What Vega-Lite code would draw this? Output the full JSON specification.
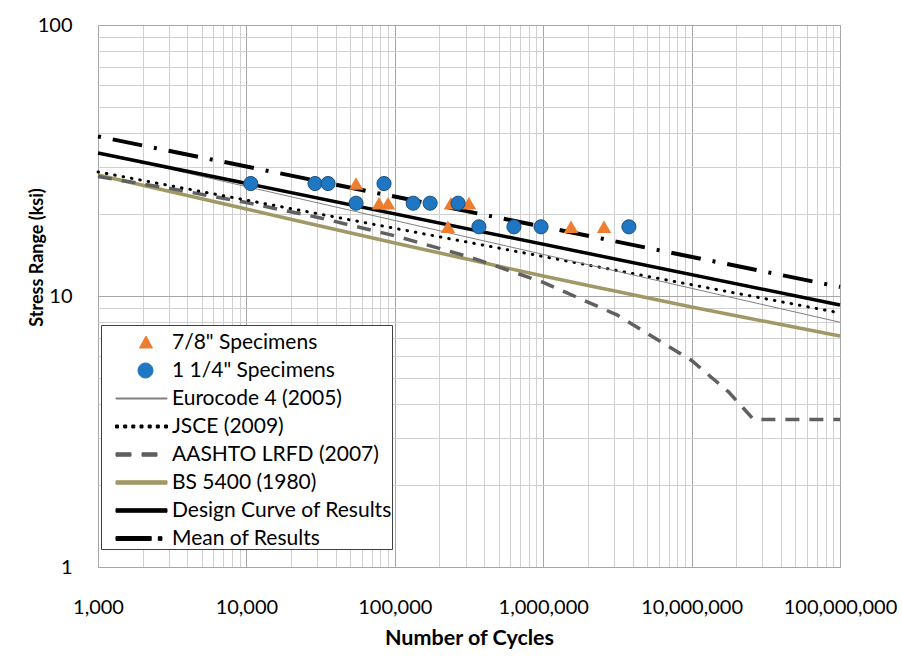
{
  "$schema": "https://vega.github.io/schema/vega-lite/v6.json",
  "autosize": {"type": "none"},
  "width": 742,
  "height": 542,
  "padding": {"left": 98, "top": 25, "right": 62, "bottom": 91},
  "background": "white",
  "config": {
    "font": "Lato",
    "view": {"stroke": "#a6a6a6", "strokeWidth": 1},
    "axis": {"labelColor": "#000000", "titleColor": "#000000", "labelFont": "Lato", "titleFont": "Lato"}
  },
  "datasets": {
    "curves": [
      {"series": "Eurocode 4 (2005)", "N": 1000, "S": 33.8},
      {"series": "Eurocode 4 (2005)", "N": 100000000, "S": 8.0},
      {"series": "JSCE (2009)", "N": 1000, "S": 28.7},
      {"series": "JSCE (2009)", "N": 100000000, "S": 8.66},
      {"series": "AASHTO LRFD (2007)", "N": 1000, "S": 27.58},
      {"series": "AASHTO LRFD (2007)", "N": 3162, "S": 24.85},
      {"series": "AASHTO LRFD (2007)", "N": 10000, "S": 22.13},
      {"series": "AASHTO LRFD (2007)", "N": 31623, "S": 19.40},
      {"series": "AASHTO LRFD (2007)", "N": 100000, "S": 16.68},
      {"series": "AASHTO LRFD (2007)", "N": 316228, "S": 13.95},
      {"series": "AASHTO LRFD (2007)", "N": 1000000, "S": 11.23},
      {"series": "AASHTO LRFD (2007)", "N": 3162278, "S": 8.50},
      {"series": "AASHTO LRFD (2007)", "N": 10000000, "S": 5.78},
      {"series": "AASHTO LRFD (2007)", "N": 17800000, "S": 4.42},
      {"series": "AASHTO LRFD (2007)", "N": 26200000, "S": 3.5},
      {"series": "AASHTO LRFD (2007)", "N": 100000000, "S": 3.5},
      {"series": "BS 5400 (1980)", "N": 1000, "S": 27.96},
      {"series": "BS 5400 (1980)", "N": 10000, "S": 20.94},
      {"series": "BS 5400 (1980)", "N": 100000, "S": 15.69},
      {"series": "BS 5400 (1980)", "N": 316228, "S": 13.63},
      {"series": "BS 5400 (1980)", "N": 1000000, "S": 11.85},
      {"series": "BS 5400 (1980)", "N": 3162278, "S": 10.39},
      {"series": "BS 5400 (1980)", "N": 10000000, "S": 9.11},
      {"series": "BS 5400 (1980)", "N": 31622777, "S": 8.05},
      {"series": "BS 5400 (1980)", "N": 100000000, "S": 7.12},
      {"series": "Design Curve of Results", "N": 1000, "S": 33.7},
      {"series": "Design Curve of Results", "N": 100000000, "S": 9.26},
      {"series": "Mean of Results", "N": 1000, "S": 38.8},
      {"series": "Mean of Results", "N": 100000000, "S": 10.8}
    ],
    "points": [
      {"series": "7/8\" Specimens", "N": 54800, "S": 26},
      {"series": "7/8\" Specimens", "N": 78300, "S": 22},
      {"series": "7/8\" Specimens", "N": 90000, "S": 22},
      {"series": "7/8\" Specimens", "N": 228000, "S": 18},
      {"series": "7/8\" Specimens", "N": 239000, "S": 22},
      {"series": "7/8\" Specimens", "N": 316000, "S": 22},
      {"series": "7/8\" Specimens", "N": 1540000, "S": 18},
      {"series": "7/8\" Specimens", "N": 2570000, "S": 18},
      {"series": "1 1/4\" Specimens", "N": 10700, "S": 26},
      {"series": "1 1/4\" Specimens", "N": 29000, "S": 26},
      {"series": "1 1/4\" Specimens", "N": 35500, "S": 26},
      {"series": "1 1/4\" Specimens", "N": 54800, "S": 22},
      {"series": "1 1/4\" Specimens", "N": 84600, "S": 26},
      {"series": "1 1/4\" Specimens", "N": 133000, "S": 22},
      {"series": "1 1/4\" Specimens", "N": 173000, "S": 22},
      {"series": "1 1/4\" Specimens", "N": 267000, "S": 22},
      {"series": "1 1/4\" Specimens", "N": 369000, "S": 18},
      {"series": "1 1/4\" Specimens", "N": 635000, "S": 18},
      {"series": "1 1/4\" Specimens", "N": 967000, "S": 18},
      {"series": "1 1/4\" Specimens", "N": 3780000, "S": 18}
    ]
  },
  "encoding": {
    "x": {
      "field": "N", "type": "quantitative",
      "scale": {"type": "log", "domain": [1000, 100000000], "nice": false},
      "axis": {
        "values": [1000,2000,3000,4000,5000,6000,7000,8000,9000,10000,20000,30000,40000,50000,60000,70000,80000,90000,100000,200000,300000,400000,500000,600000,700000,800000,900000,1000000,2000000,3000000,4000000,5000000,6000000,7000000,8000000,9000000,10000000,20000000,30000000,40000000,50000000,60000000,70000000,80000000,90000000,100000000],
        "grid": true,
        "gridColor": {"condition": {"test": "indexof([1000,10000,100000,1000000,10000000,100000000], datum.value) >= 0", "value": "#a6a6a6"}, "value": "#d0d0d0"},
        "gridWidth": 1,
        "ticks": false,
        "domain": false,
        "labelExpr": "indexof([1000,10000,100000,1000000,10000000,100000000], datum.value) >= 0 ? format(datum.value, ',') : ''",
        "labelFontSize": 20,
        "labelPadding": 30,
        "labelOverlap": false,
        "labelFlush": false,
        "title": "Number of Cycles",
        "titleFontSize": 21.5,
        "titleFontWeight": "bold",
        "titleY": 71,
        "titleBaseline": "middle"
      }
    },
    "y": {
      "field": "S", "type": "quantitative",
      "scale": {"type": "log", "domain": [1, 100], "nice": false},
      "axis": {
        "values": [1,2,3,4,5,6,7,8,9,10,20,30,40,50,60,70,80,90,100],
        "grid": true,
        "gridColor": {"condition": {"test": "indexof([1,10,100], datum.value) >= 0", "value": "#a6a6a6"}, "value": "#d0d0d0"},
        "gridWidth": 1,
        "ticks": false,
        "domain": false,
        "labelExpr": "indexof([1,10,100], datum.value) >= 0 ? datum.value + '' : ''",
        "labelFontSize": 20,
        "labelPadding": 26,
        "labelOverlap": false,
        "labelFlush": false,
        "title": "Stress Range (ksi)",
        "titleFontSize": 18,
        "titleFontWeight": "bold",
        "titleX": -61,
        "titleY": 232,
        "titleBaseline": "middle"
      }
    },
    "color": {
      "field": "series", "type": "nominal",
      "scale": {
        "domain": ["7/8\" Specimens", "1 1/4\" Specimens", "Eurocode 4 (2005)", "JSCE (2009)", "AASHTO LRFD (2007)", "BS 5400 (1980)", "Design Curve of Results", "Mean of Results"],
        "range": ["#ED7D31", "#1F77C4", "#808080", "#000000", "#606060", "#A09866", "#000000", "#000000"]
      },
      "legend": {
        "orient": "none",
        "legendX": 3,
        "legendY": 300,
        "title": null,
        "symbolSize": 1129,
        "symbolStrokeWidth": 1,
        "labelFontSize": 21,
        "labelFont": "Lato",
        "labelColor": "#000000",
        "labelLimit": 400,
        "padding": 0,
        "rowPadding": 0,
        "symbolOffset": 23,
        "labelOffset": 13,
        "strokeColor": "#404040",
        "fillColor": "#ffffff",
        "encoding": {
          "symbols": {
            "shape": {"value": {"expr": "['M-2.411,0L-2.408,0L-2.408,0.001ZM0.267,-0.387L0.655,0.327L-0.119,0.327Z', 'M-2.411,0L-2.408,0L-2.408,0.001ZM0.684,0A0.446,0.446,0,1,1,-0.208,0A0.446,0.446,0,1,1,0.684,0Z', 'M-2.411,0L-2.408,0L-2.408,0.001ZM-1.518,-0.0298L1.518,-0.0298L1.518,0.0298L-1.518,0.0298Z', 'M-2.411,0L-2.408,0L-2.408,0.001ZM-1.547,-0.0893L-1.369,-0.0893L-1.369,0.0893L-1.547,0.0893ZM-1.059,-0.0893L-0.881,-0.0893L-0.881,0.0893L-1.059,0.0893ZM-0.577,-0.0893L-0.399,-0.0893L-0.399,0.0893L-0.577,0.0893ZM-0.089,-0.0893L0.089,-0.0893L0.089,0.0893L-0.089,0.0893ZM0.399,-0.0893L0.577,-0.0893L0.577,0.0893L0.399,0.0893ZM0.881,-0.0893L1.059,-0.0893L1.059,0.0893L0.881,0.0893ZM1.369,-0.0893L1.547,-0.0893L1.547,0.0893L1.369,0.0893Z', 'M-2.411,0L-2.408,0L-2.408,0.001ZM-1.518,-0.104L-0.625,-0.104L-0.625,0.104L-1.518,0.104ZM0.029,-0.104L0.922,-0.104L0.922,0.104L0.029,0.104Z', 'M-2.411,0L-2.408,0L-2.408,0.001ZM-1.518,-0.104L1.518,-0.104L1.518,0.104L-1.518,0.104Z', 'M-2.411,0L-2.408,0L-2.408,0.001ZM-1.518,-0.104L1.518,-0.104L1.518,0.104L-1.518,0.104Z', 'M-2.411,0L-2.408,0L-2.408,0.001ZM-1.518,-0.119L0.577,-0.119L0.577,0.119L-1.518,0.119ZM1,-0.108L1.214,-0.108L1.214,0.108L1,0.108Z'][datum.index]"}},
            "fill": {"value": {"expr": "['#ED7D31','#1F77C4','#808080','#000000','#606060','#A09866','#000000','#000000'][datum.index]"}},
            "stroke": {"value": {"expr": "datum.index == 1 ? '#1F4E79' : 'transparent'"}},
            "opacity": {"value": 1}
          }
        }
      }
    }
  },
  "layer": [
    {
      "data": {"name": "curves"},
      "transform": [{"filter": "datum.series == 'BS 5400 (1980)'"}],
      "mark": {"type": "line", "strokeWidth": 3.5, "interpolate": "monotone"}
    },
    {
      "data": {"name": "curves"},
      "transform": [{"filter": "datum.series == 'AASHTO LRFD (2007)'"}],
      "mark": {"type": "line", "strokeWidth": 3.5, "strokeDash": [14, 10]}
    },
    {
      "data": {"name": "curves"},
      "transform": [{"filter": "datum.series == 'JSCE (2009)'"}],
      "mark": {"type": "line", "strokeWidth": 3, "strokeDash": [0.5, 8], "strokeCap": "round"}
    },
    {
      "data": {"name": "curves"},
      "transform": [{"filter": "datum.series == 'Eurocode 4 (2005)'"}],
      "mark": {"type": "line", "strokeWidth": 1}
    },
    {
      "data": {"name": "curves"},
      "transform": [{"filter": "datum.series == 'Design Curve of Results'"}],
      "mark": {"type": "line", "strokeWidth": 3.5}
    },
    {
      "data": {"name": "curves"},
      "transform": [{"filter": "datum.series == 'Mean of Results'"}],
      "mark": {"type": "line", "strokeWidth": 4, "strokeDash": [3, 12, 30, 12]}
    },
    {
      "data": {"name": "points"},
      "transform": [{"filter": "datum.series == '7/8\" Specimens'"}],
      "mark": {"type": "point", "shape": "triangle-up", "filled": true, "size": 210, "opacity": 1}
    },
    {
      "data": {"name": "points"},
      "transform": [{"filter": "datum.series == '1 1/4\" Specimens'"}],
      "mark": {"type": "point", "shape": "circle", "filled": true, "size": 200, "opacity": 1, "stroke": "#1F4E79", "strokeWidth": 1}
    }
  ]
}
